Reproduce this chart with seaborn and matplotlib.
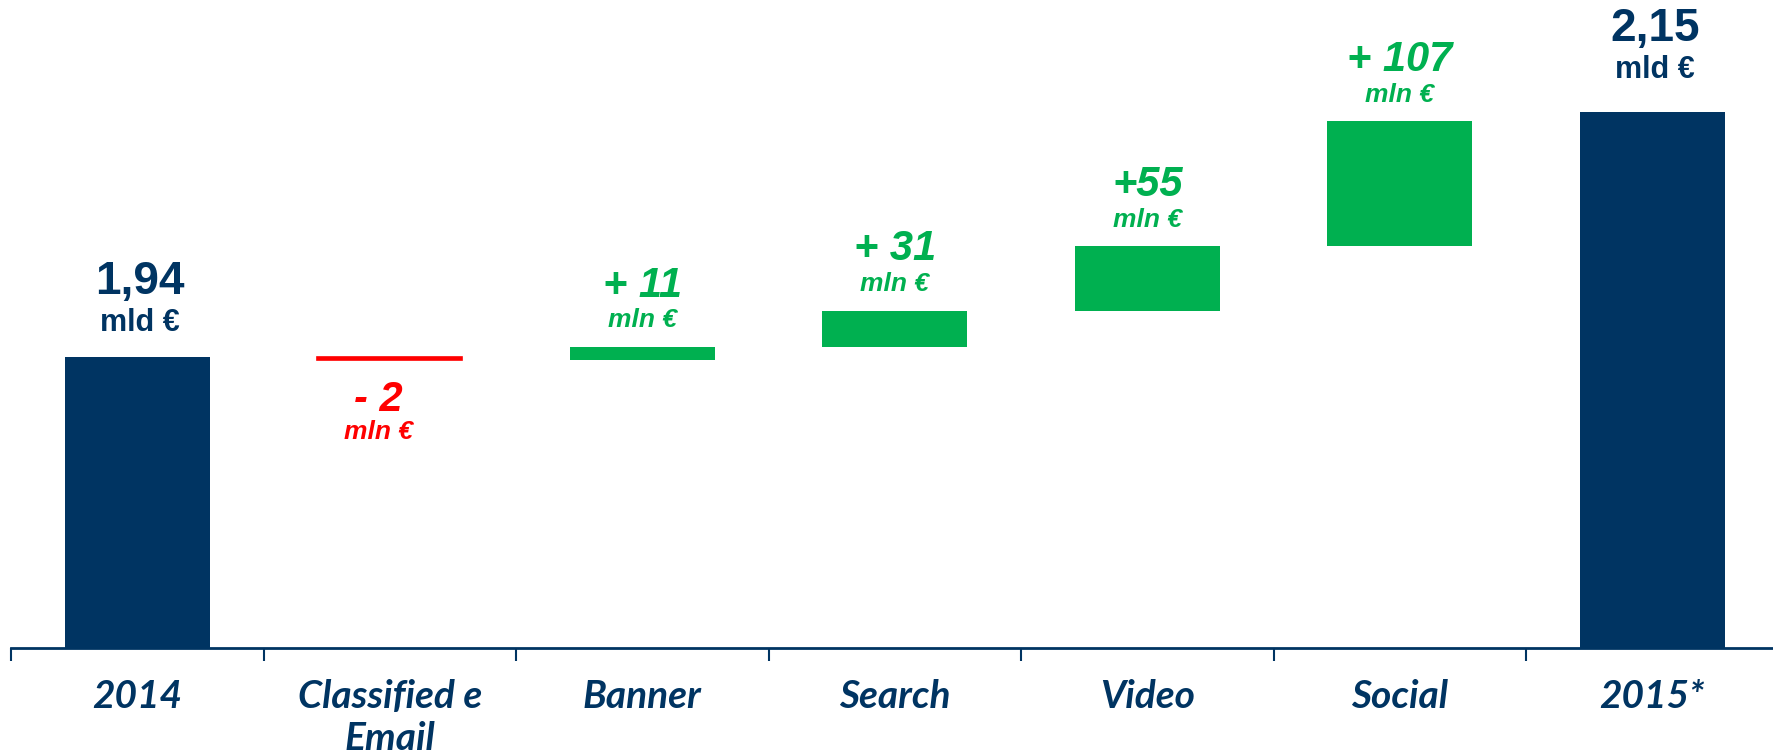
import numpy as np
import pandas as pd
import matplotlib
matplotlib.use("Agg")
import matplotlib.pyplot as plt
import seaborn as sns

# Online advertising spend bridge 2014 -> 2015 (values in mln €)
categories = ["2014", "Classified e\nEmail", "Banner", "Search", "Video", "Social", "2015*"]
start_total = 1940
end_total = 2150
deltas = [-2, 11, 31, 55, 107]
value_labels = ["1,94", "- 2", "+ 11", "+ 31", "+55", "+ 107", "2,15"]
unit_labels = ["mld €", "mln €", "mln €", "mln €", "mln €", "mln €", "mld €"]

NAVY = "#003462"
GREEN = "#00B050"
RED = "#FF0000"

sns.set_theme(style="white")
plt.rcParams["font.family"] = ["Liberation Sans", "DejaVu Sans"]

# Build floating bars: bottoms and heights
bottoms, heights, colors, kinds = [], [], [], []
bottoms.append(0); heights.append(start_total); colors.append(NAVY); kinds.append("total")
level = start_total
for d in deltas:
    if d >= 0:
        bottoms.append(level); heights.append(d); colors.append(GREEN); kinds.append("up")
    else:
        bottoms.append(level + d); heights.append(-d); colors.append(RED); kinds.append("down")
    level += d
bottoms.append(0); heights.append(end_total); colors.append(NAVY); kinds.append("total")

fig = plt.figure(figsize=(17.73, 7.54), dpi=100)
ax = fig.add_axes([11 / 1773, 106 / 754, 1762 / 1773, 648 / 754])

for cat, b, h, c, k in zip(categories, bottoms, heights, colors, kinds):
    sns.barplot(x=[cat], y=[h], bottom=b, order=categories, color=c,
                width=0.575, saturation=1, ax=ax, zorder=2,
                linewidth=1.2 if k == "down" else 0, edgecolor=c)

ax.set_xlim(-0.5, -0.5 + 1762 / 252.5)
ax.set_ylim(1691, 2246)

# Label offsets (points) above the bar top for totals
total_offsets = {0: (54, 25), 6: (60, 30)}

for i, (b, h, kind, vl, ul) in enumerate(zip(bottoms, heights, kinds, value_labels, unit_labels)):
    top = b + h
    if kind == "total":
        o1, o2 = total_offsets[i]
        ax.annotate(vl, (i, top), xytext=(2, o1), textcoords="offset points",
                    ha="center", va="center", fontsize=33, fontweight="bold", color=NAVY)
        ax.annotate(ul, (i, top), xytext=(2, o2), textcoords="offset points",
                    ha="center", va="center", fontsize=22, fontweight="bold", color=NAVY)
    elif kind == "up":
        ax.annotate(vl, (i, top), xytext=(0, 44), textcoords="offset points",
                    ha="center", va="center", fontsize=30, fontweight="bold",
                    fontstyle="italic", color=GREEN)
        ax.annotate(ul, (i, top), xytext=(0, 19), textcoords="offset points",
                    ha="center", va="center", fontsize=19, fontweight="bold",
                    fontstyle="italic", color=GREEN)
    else:
        ax.annotate(vl, (i, b), xytext=(-8, -29), textcoords="offset points",
                    ha="center", va="center", fontsize=30, fontweight="bold",
                    fontstyle="italic", color=RED)
        ax.annotate(ul, (i, b), xytext=(-8, -52), textcoords="offset points",
                    ha="center", va="center", fontsize=19, fontweight="bold",
                    fontstyle="italic", color=RED)

# Axis styling
for s in ["top", "right", "left"]:
    ax.spines[s].set_visible(False)
ax.spines["bottom"].set_color(NAVY)
ax.spines["bottom"].set_linewidth(2)
ax.set_yticks([])
ax.set_xlabel("")
ax.set_ylabel("")
ax.set_xticks(np.arange(len(categories)))
ax.set_xticklabels(categories, fontsize=28, fontweight="bold", fontstyle="italic",
                   color=NAVY, family=["Lato", "DejaVu Sans"], linespacing=1.25)
ax.set_xticks(np.arange(-0.5, len(categories) - 0.5, 1.0), minor=True)
ax.tick_params(axis="x", which="major", bottom=False, length=0, pad=22)
ax.tick_params(axis="x", which="minor", bottom=True, length=9, width=1.5,
               color=NAVY, direction="out")
ax.grid(False)

fig.savefig("out.png", dpi=100)
